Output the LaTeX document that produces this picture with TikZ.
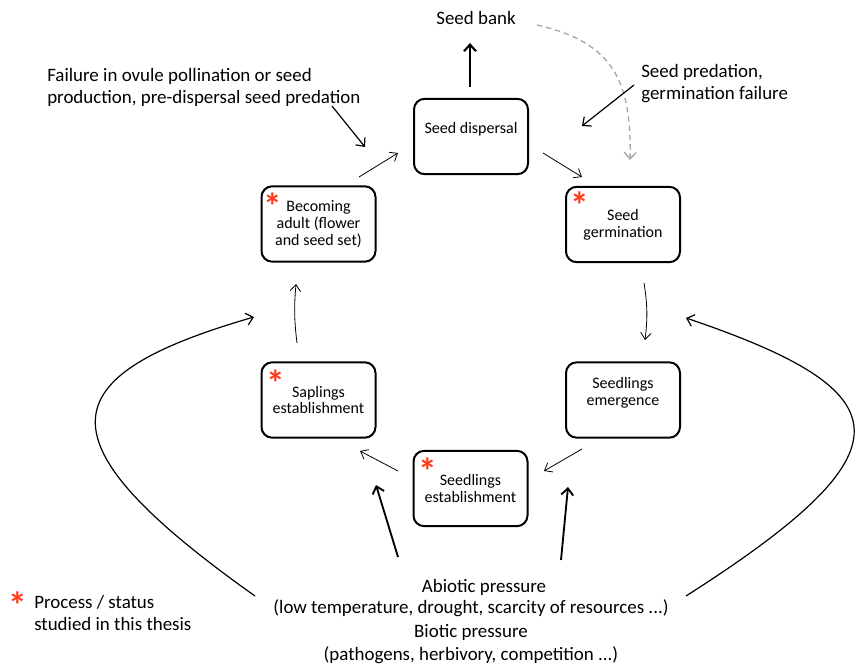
\documentclass[tikz,border=0pt]{standalone}
\usepackage{fontspec}
\setmainfont{Carlito}
\usetikzlibrary{arrows.meta}
\definecolor{starred}{HTML}{FF3B1A}
\tikzset{
  x=0.75pt, y=-0.75pt,
  box/.style={draw, line width=1.5pt, rounded corners=8pt, minimum width=85.5pt, minimum height=56.5pt, align=center, inner sep=0pt, font=\fontsize{12}{12.5}\selectfont},
  lbl/.style={align=left, inner sep=0pt, font=\fontsize{14.2}{16.5}\selectfont},
  ctext/.style={align=center, inner sep=0pt, font=\fontsize{14.2}{16.5}\selectfont},
  star/.style={inner sep=0pt, text=starred, font=\fontsize{28}{28}\selectfont\bfseries},
  thin/.style={-{Straight Barb[length=5pt,width=8pt]}, line width=0.6pt},
  mid/.style={-{Straight Barb[length=5pt,width=9pt]}, line width=0.9pt},
  thick/.style={-{Straight Barb[length=5pt,width=9pt]}, line width=1.4pt},
}
\begin{document}
\begin{tikzpicture}
\useasboundingbox (0,0) rectangle (856,666);

% boxes
\node[box] (disp) at (471,136.5) {Seed dispersal\\\mbox{}};
\node[box] (germ) at (623,224.5) {Seed\\germination};
\node[box] (adult) at (318.5,224) {Becoming\\adult (flower\\and seed set)};
\node[box] (emerg) at (623,400) {Seedlings\\emergence\\\mbox{}};
\node[box] (estab) at (470.5,488.5) {Seedlings\\establishment};
\node[box] (sapl) at (318.5,400) {Saplings\\establishment};

% asterisks
\node[star] (s1) at (580,205) {*};
\node[star] (s2) at (273,206) {*};
\node[star] (s3) at (428,471) {*};
\node[star] (s4) at (276,383) {*};
\node[star] (s5) at (18,605) {*};

% texts
\node[ctext] (bank) at (476,18) {Seed bank};
\node[lbl, anchor=west] (pred) at (641,84) {Seed predation,\\germination failure};
\node[lbl, anchor=west] (fail) at (47,87) {Failure in ovule pollination or seed\\production, pre-dispersal seed predation};
\node[lbl, anchor=west] (legend) at (34,613) {Process / status\\studied in this thesis};
\node[ctext] (abio) at (484,587) {Abiotic pressure};
\node[ctext] (abio2) at (471,608) {(low temperature, drought, scarcity of resources ...)};
\node[ctext] (bio) at (471,632) {Biotic pressure};
\node[ctext] (bio2) at (471,655) {(pathogens, herbivory, competition ...)};

% coordinates
\coordinate (c1a) at (359,177); \coordinate (c1b) at (398,153);
\coordinate (c2a) at (543,153); \coordinate (c2b) at (582,177);
\coordinate (c3a) at (644,283); \coordinate (c3b) at (645,340);
\coordinate (c4a) at (582,449); \coordinate (c4b) at (544,471);
\coordinate (c5a) at (398,471); \coordinate (c5b) at (360,451);
\coordinate (c6a) at (297,343); \coordinate (c6b) at (296,284);
\coordinate (bka) at (470,87); \coordinate (bkb) at (470,43);
\coordinate (da) at (537,25); \coordinate (db) at (630,160);
\coordinate (pa) at (634,85); \coordinate (pb) at (582,126);
\coordinate (fa) at (332,106); \coordinate (fb) at (365,147);
\coordinate (ea) at (398,557); \coordinate (eb) at (376,485);
\coordinate (ga) at (561,560); \coordinate (gb) at (568,487);
\coordinate (la) at (255,596); \coordinate (lb) at (254,317);
\coordinate (ra) at (686,596); \coordinate (rb) at (686,318);

% cycle arrows
\draw[thin] (c1a) -- (c1b);
\draw[thin] (c2a) -- (c2b);
\draw[thin] (c3a) to[bend left=8] (c3b);
\draw[thin] (c4a) -- (c4b);
\draw[thin] (c5a) -- (c5b);
\draw[thin] (c6a) to[bend left=6] (c6b);

% other arrows
\draw[-{Straight Barb[length=5pt,width=9pt]}, line width=1.6pt] (bka) -- (bkb);
\draw[-{Straight Barb[length=5pt,width=9pt]}, line width=1pt, gray!70, dash pattern=on 4pt off 3pt] (da) .. controls (612,42) and (632,80) .. (db);
\draw[mid] (pa) -- (pb);
\draw[mid] (fa) -- (fb);
\draw[thick] (ea) -- (eb);
\draw[thick] (ga) -- (gb);
\draw[mid] (la) .. controls (35,440) and (50,376) .. (lb);
\draw[mid] (ra) .. controls (915,450) and (905,392) .. (rb);
\end{tikzpicture}
\end{document}
